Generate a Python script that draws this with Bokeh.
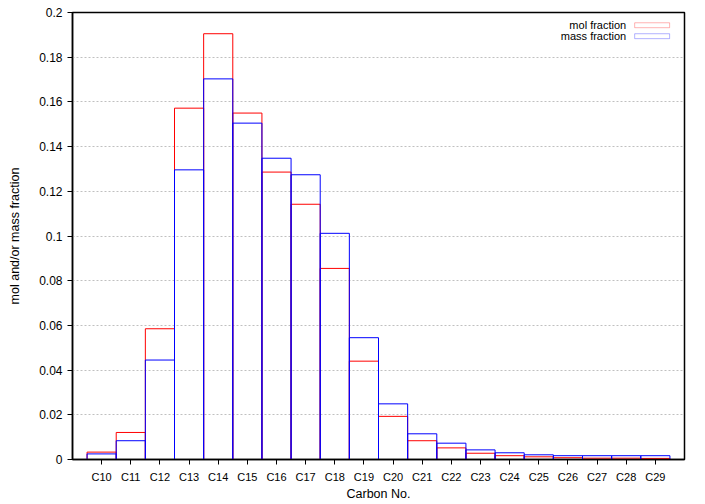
import numpy as np
from bokeh.plotting import figure
from bokeh.models import Range1d, FixedTicker, Label, BoxAnnotation
from bokeh.embed import file_html
from bokeh.resources import INLINE

categories = ["C10", "C11", "C12", "C13", "C14", "C15", "C16", "C17", "C18", "C19",
              "C20", "C21", "C22", "C23", "C24", "C25", "C26", "C27", "C28", "C29"]
mol_fraction = [0.0033, 0.0121, 0.0585, 0.1572, 0.1905, 0.1550, 0.1286, 0.1142, 0.0855, 0.0440,
                0.0193, 0.0084, 0.0052, 0.0028, 0.0017, 0.0012, 0.0008, 0.0006, 0.0006, 0.0005]
mass_fraction = [0.0025, 0.0084, 0.0445, 0.1296, 0.1703, 0.1505, 0.1348, 0.1274, 0.1012, 0.0545,
                 0.0249, 0.0115, 0.0073, 0.0043, 0.0030, 0.0021, 0.0017, 0.0017, 0.0017, 0.0017]
y_ticks = [0.0, 0.02, 0.04, 0.06, 0.08, 0.1, 0.12, 0.14, 0.16, 0.18, 0.2]
y_tick_labels = ["0", "0.02", "0.04", "0.06", "0.08", "0.1", "0.12", "0.14", "0.16", "0.18", "0.2"]

FONT = "Liberation Sans"
FS = "11px"
FS_LABEL = "12.5px"

idx = np.arange(len(categories))

p = figure(width=705, height=504, x_range=Range1d(-1, 20), y_range=Range1d(0, 0.2),
           output_backend="svg", toolbar_location=None,
           min_border_left=72, min_border_right=21, min_border_top=12, min_border_bottom=45)
p.background_fill_color = "white"
p.border_fill_color = "white"
p.outline_line_color = "black"
p.outline_line_width = 1.5

p.xgrid.grid_line_color = None
p.ygrid.grid_line_color = "#c0c0c0"
p.ygrid.grid_line_dash = "2 2"
p.ygrid.grid_line_width = 1

p.quad(left=idx - 0.5, right=idx + 0.5, bottom=0, top=mol_fraction,
       fill_color=None, line_color="#ff0000", line_width=1)
p.quad(left=idx - 0.5, right=idx + 0.5, bottom=0, top=mass_fraction,
       fill_color=None, line_color="#0000ff", line_width=1)

p.xaxis.ticker = FixedTicker(ticks=list(idx))
p.xaxis.major_label_overrides = {int(i): c for i, c in zip(idx, categories)}
p.yaxis.ticker = FixedTicker(ticks=y_ticks)
p.yaxis.major_label_overrides = {t: l for t, l in zip(y_ticks, y_tick_labels)}

for ax in (p.xaxis[0], p.yaxis[0]):
    ax.axis_line_width = 1.5
    ax.axis_line_color = "black"
    ax.major_tick_out = 5
    ax.major_tick_in = 0
    ax.minor_tick_out = 0
    ax.minor_tick_in = 0
    ax.major_label_text_font = FONT
    ax.major_label_text_font_size = FS
    ax.major_label_text_color = "black"
    ax.axis_label_text_font = FONT
    ax.axis_label_text_font_size = FS_LABEL
    ax.axis_label_text_font_style = "normal"
    ax.axis_label_text_color = "black"

p.yaxis.major_label_text_font_size = "12px"
p.xaxis.axis_label = "Carbon No."
p.yaxis.axis_label = "mol and/or mass fraction"
p.xaxis.major_label_standoff = 6
p.xaxis.axis_label_standoff = 1
p.yaxis.major_label_standoff = 5
p.yaxis.axis_label_standoff = 14

# legend (gnuplot style: text right-aligned, sample box to the right)
legend_items = [("mol fraction", "#ff0000", 0.1943), ("mass fraction", "#0000ff", 0.1894)]
for text, color, yc in legend_items:
    p.add_layout(Label(x=18.0, y=yc, text=text, text_align="right", text_baseline="middle",
                       text_font=FONT, text_font_size=FS, text_color="black"))
    p.add_layout(BoxAnnotation(left=18.29, right=19.49, bottom=yc - 0.0011, top=yc + 0.0011,
                               fill_color=None, fill_alpha=0, line_color=color, line_width=1))

open("out.html", "w").write(file_html(p, INLINE))
